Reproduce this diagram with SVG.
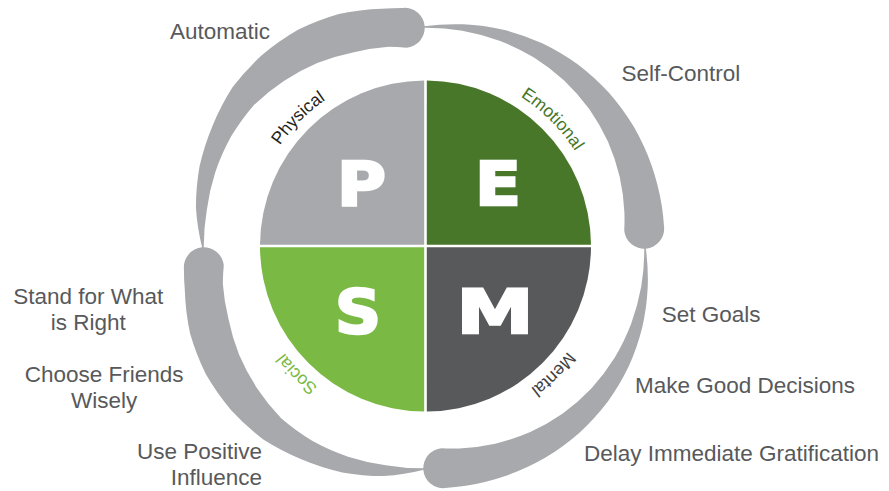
<svg xmlns="http://www.w3.org/2000/svg" width="889" height="491" viewBox="0 0 889 491">
<defs>
<style>
.sw{fill:#a7a9ac}
.lbl{font-family:"Liberation Sans",Arial,sans-serif;font-size:22.5px;fill:#58595b}
.arc{font-family:"Liberation Sans",Arial,sans-serif;font-size:17.5px;text-anchor:middle}
.big{font-family:"DejaVu Sans",sans-serif;font-weight:bold;font-size:61px;fill:#fff;stroke:#fff;stroke-width:2.5;text-anchor:middle}
</style>
<path id="thin" d="M424,26.25 A224,224 0 0 1 463.44,24.30 A230,230 0 0 1 503.43,29.76 A234,234 0 0 1 542.23,43.23 A238,238 0 0 1 577.98,64.49 A240,240 0 0 1 608.96,92.80 A242,242 0 0 1 633.84,126.85 A242,242 0 0 1 651.55,165.18 A242,242 0 0 1 661.83,206.06 A241,241 0 0 1 664.08,226.99 A20,20 0 0 1 624.23,230.48 A202,202 0 0 0 624.41,212.66 A206,206 0 0 0 619.69,176.77 A210,210 0 0 0 608.03,141.75 A214,214 0 0 0 589.43,109.19 A217,217 0 0 0 564.42,80.66 A219,219 0 0 0 533.98,57.52 A220,220 0 0 0 499.43,40.75 A220.5,220.5 0 0 0 462.32,30.70 A220.5,220.5 0 0 0 424,27.75 Z"/>
<path id="thick" d="M424,26.25 A226,226 0 0 1 464.22,19.93 A235,235 0 0 1 505.69,23.56 A241,241 0 0 1 546.12,36.48 A247,247 0 0 1 584.70,56.49 A250,250 0 0 1 617.04,86.02 A252,252 0 0 1 642.24,122.00 A250,250 0 0 1 657.98,162.84 A245,245 0 0 1 663.18,205.83 A242,242 0 0 1 664.08,226.99 A20,20 0 0 1 624.23,230.48 A202,202 0 0 0 625.19,212.52 A206,206 0 0 0 619.46,176.86 A211,211 0 0 0 608.90,141.25 A216,216 0 0 0 591.00,107.87 A220,220 0 0 0 566.83,77.78 A222,222 0 0 0 535.41,55.03 A222,222 0 0 0 499.94,39.35 A221,221 0 0 0 462.29,30.84 A220.5,220.5 0 0 0 424,27.75 Z"/>
<path id="ring" d="M425.5,69 A177,177 0 1 1 425.5,423 A177,177 0 1 1 425.5,69"/>
</defs>
<rect width="889" height="491" fill="#fff"/>
<g id="swooshes">
<use href="#thick" class="sw" transform="rotate(-90 424 248)"/>
<use href="#thin" class="sw"/>
<use href="#thin" class="sw" transform="rotate(90 424 248)"/>
<use href="#thick" class="sw" transform="rotate(180 424 248)"/>
</g>
<g id="physical">
<path d="M424.2,244.7 L424.2,80.5 A165.5,165.5 0 0 0 260,244.7 Z" fill="#a7a9ac"/>
<text class="big" x="361.5" y="205" textLength="49" lengthAdjust="spacingAndGlyphs">P</text>
<text class="arc" fill="#231f20"><textPath href="#ring" startOffset="973.1">Physical</textPath></text>
</g>
<g id="emotional">
<path d="M426.8,244.7 L591,244.7 A165.5,165.5 0 0 0 426.8,80.5 Z" fill="#48772a"/>
<text class="big" x="498" y="205" textLength="46" lengthAdjust="spacingAndGlyphs">E</text>
<text class="arc" fill="#48772a"><textPath href="#ring" startOffset="139">Emotional</textPath></text>
</g>
<g id="social">
<path d="M424.2,247.3 L260,247.3 A165.5,165.5 0 0 0 424.2,411.5 Z" fill="#7ab943"/>
<text class="big" x="358" y="333" textLength="46" lengthAdjust="spacingAndGlyphs">S</text>
<text class="arc" fill="#7ab943"><textPath href="#ring" startOffset="695.1">Social</textPath></text>
</g>
<g id="mental">
<path d="M426.8,247.3 L426.8,411.5 A165.5,165.5 0 0 0 591,247.3 Z" fill="#58595b"/>
<text class="big" x="495" y="333" textLength="77" lengthAdjust="spacingAndGlyphs">M</text>
<text class="arc" fill="#414042"><textPath href="#ring" startOffset="417">Mental</textPath></text>
</g>
<g id="items">
<text class="lbl" x="170" y="38.5">Automatic</text>
<text class="lbl" x="621.5" y="81">Self-Control</text>
<text class="lbl" x="661.7" y="322">Set Goals</text>
<text class="lbl" x="635" y="392.5">Make Good Decisions</text>
<text class="lbl" x="584" y="461">Delay Immediate Gratification</text>
<text class="lbl" x="88.3" y="304" text-anchor="middle">Stand for What</text>
<text class="lbl" x="88.3" y="330" text-anchor="middle">is Right</text>
<text class="lbl" x="104.2" y="382" text-anchor="middle">Choose Friends</text>
<text class="lbl" x="104.2" y="408" text-anchor="middle">Wisely</text>
<text class="lbl" x="262" y="458.5" text-anchor="end">Use Positive</text>
<text class="lbl" x="262" y="484.5" text-anchor="end">Influence</text>
</g>
</svg>
